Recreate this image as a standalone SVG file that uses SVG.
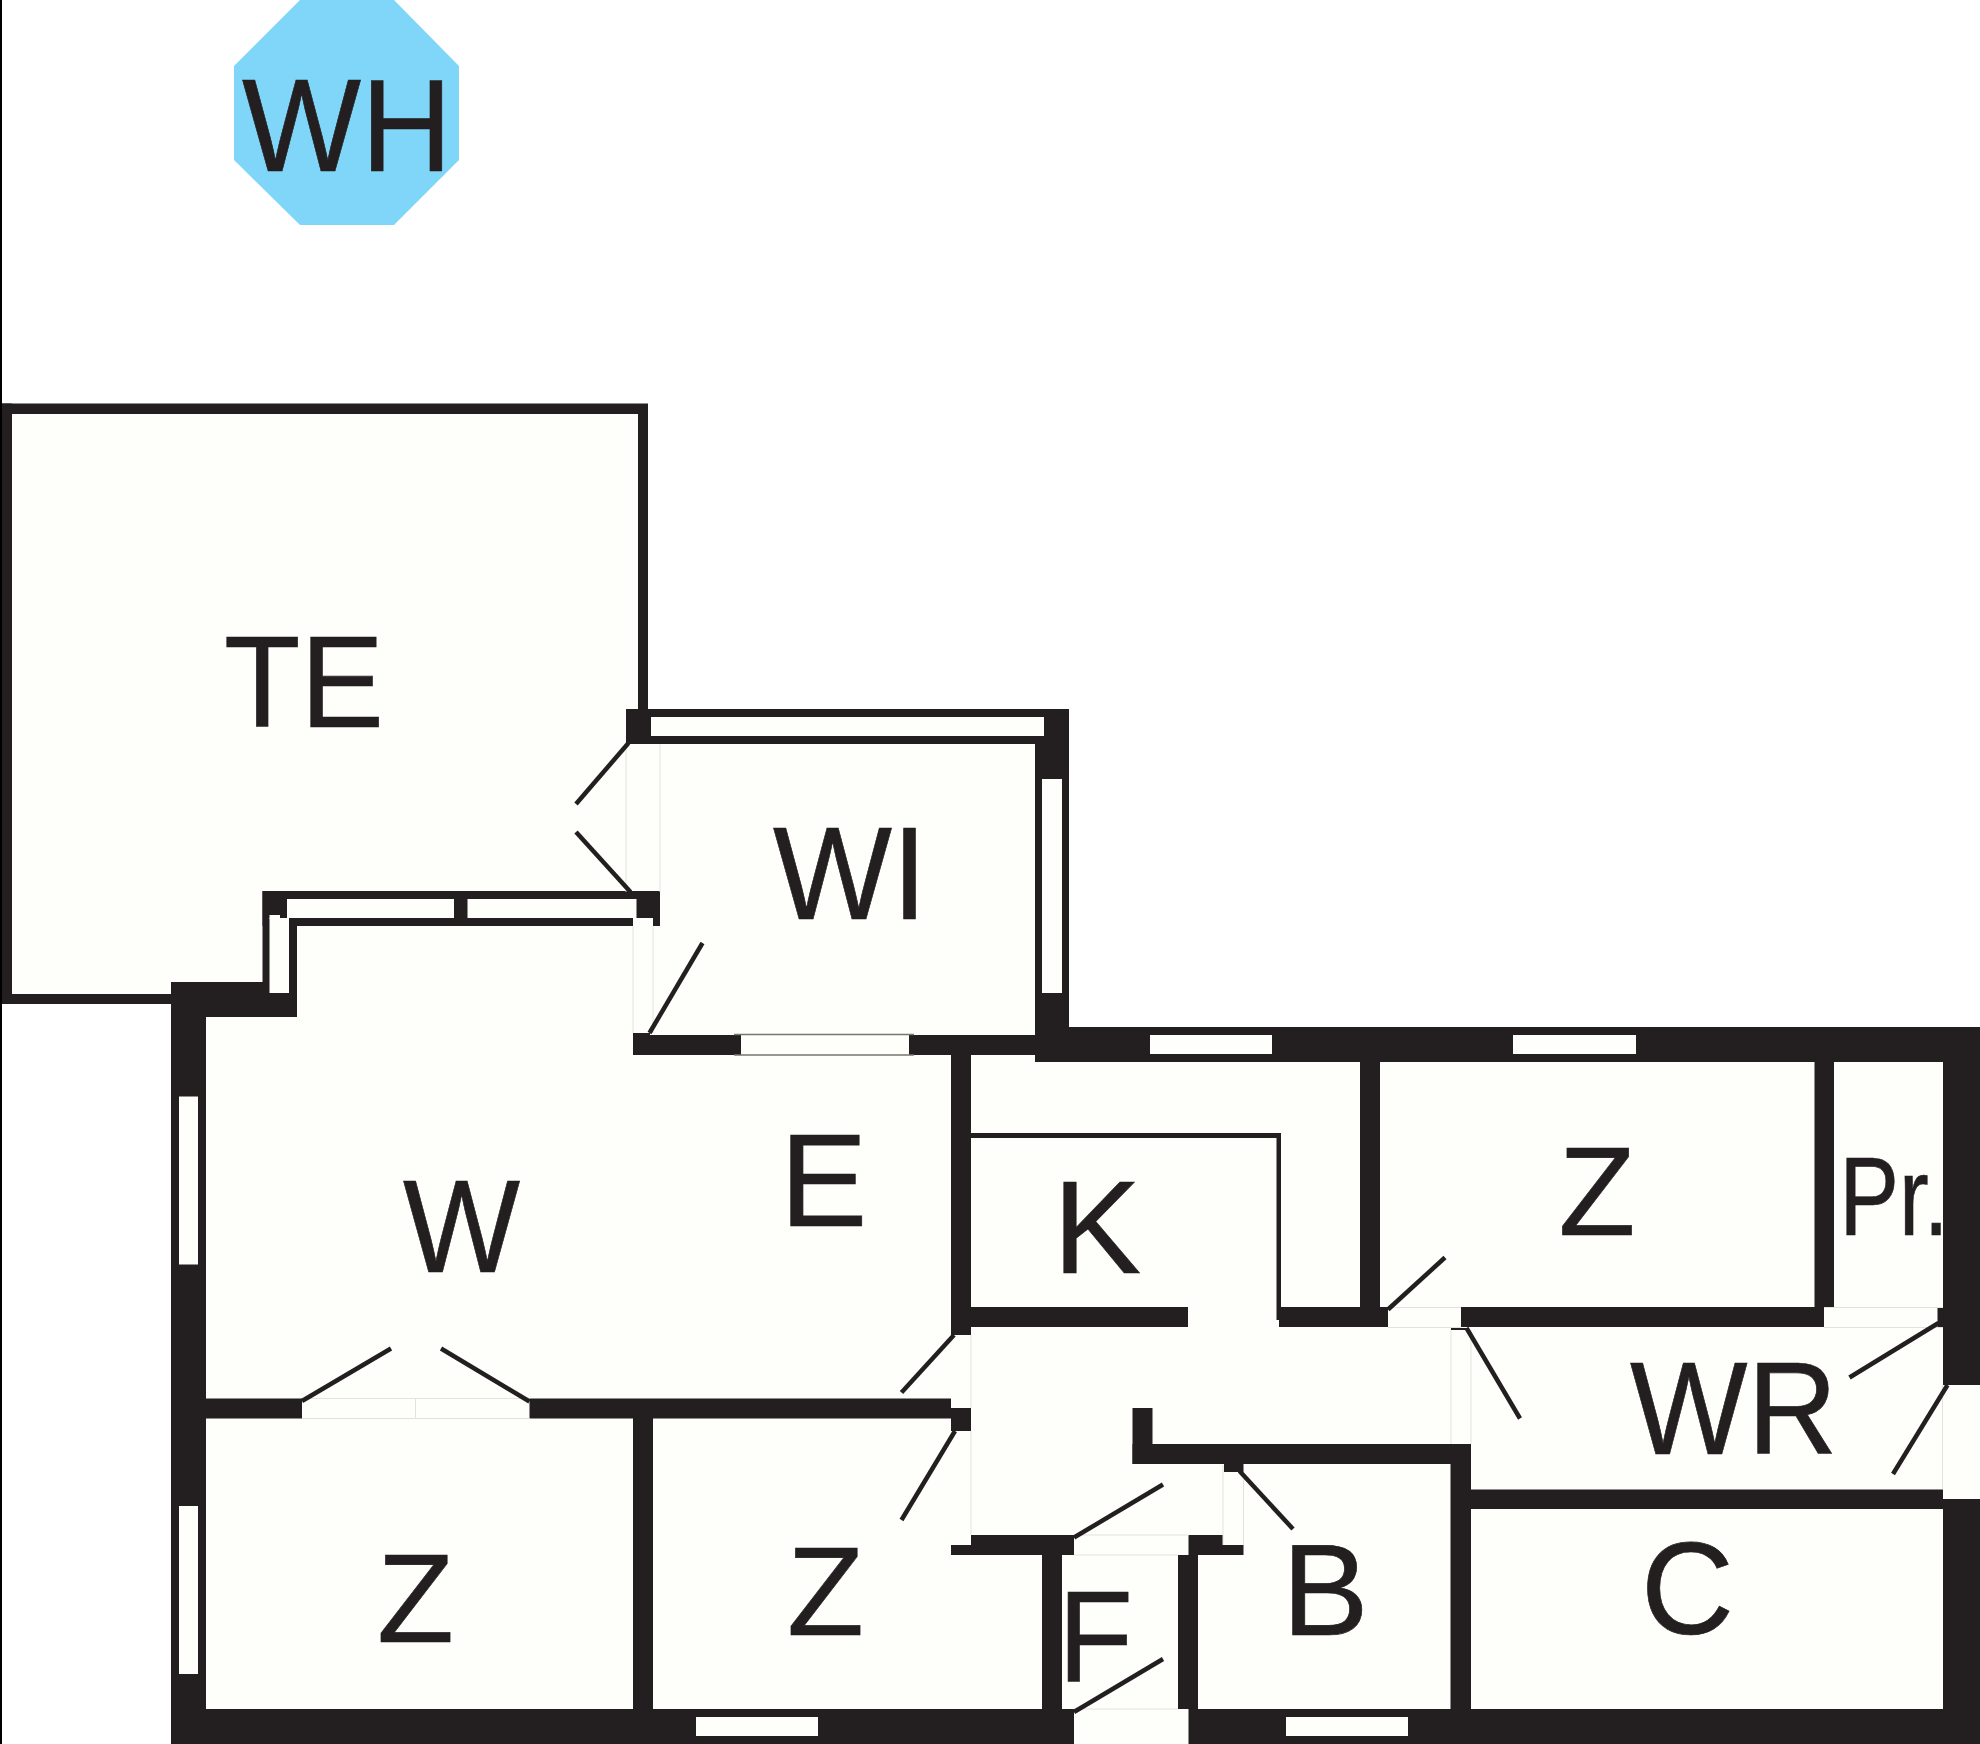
<svg xmlns="http://www.w3.org/2000/svg" width="1980" height="1744" viewBox="0 0 1980 1744">
<style>
.w{fill:#231f20}
.g{fill:#fefefa}
.f{fill:none;stroke:#e2e2de;stroke-width:1}
.e{fill:none;stroke:#77776f;stroke-width:1.5}
.d{stroke:#231f20;stroke-width:4.5;fill:none}
text{font-family:"Liberation Sans",Arial,sans-serif;fill:#231f20;stroke:#231f20;stroke-width:0.7}
</style>
<rect width="1980" height="1744" fill="#fff"/>
<rect id="edge-line" x="0" y="0" width="2" height="1744" fill="#000"/>
<polygon id="water-heater" points="300,0 394,0 459,66 459,160 394,225 300,225 234,160 234,66" fill="#80d6f8"/>
<polygon id="floor" class="g" points="2,404 648,404 648,709 1069,709 1069,1027 1980,1027 1980,1744 171,1744 171,1004 2,1004"/>
<g id="walls">
<rect class="w" x="2" y="403.5" width="646" height="10.5"/>
<rect class="w" x="2" y="403.5" width="10" height="600.5"/>
<rect class="w" x="638" y="404" width="10" height="305"/>
<rect class="w" x="2" y="994" width="170" height="10"/>
<rect class="w" x="171" y="982" width="35" height="762"/>
<rect class="w" x="171" y="982" width="126" height="35"/>
<rect class="w" x="262.5" y="891" width="397.5" height="35"/>
<rect class="w" x="262.5" y="891" width="34.5" height="126"/>
<rect class="w" x="626" y="709" width="443" height="35"/>
<rect class="w" x="1035" y="709" width="34" height="353"/>
<rect class="w" x="633" y="1035" width="402" height="20"/>
<rect class="w" x="633" y="1033" width="17" height="22"/>
<rect class="w" x="1035" y="1027" width="945" height="35"/>
<rect class="w" x="951" y="1055" width="20" height="280"/>
<rect class="w" x="971" y="1133" width="310" height="5"/>
<rect class="w" x="1276.5" y="1133" width="4.5" height="187"/>
<rect class="w" x="1360" y="1062" width="20" height="265"/>
<rect class="w" x="971" y="1307" width="217" height="20"/>
<rect class="w" x="1279" y="1307" width="109" height="20"/>
<rect class="w" x="1461" y="1307" width="363" height="20"/>
<rect class="w" x="1451" y="1328" width="16" height="2"/>
<rect class="w" x="1814.5" y="1062" width="19.5" height="245"/>
<rect class="w" x="1943" y="1062" width="37" height="323"/>
<rect class="w" x="1937.5" y="1307" width="6" height="20"/>
<rect class="w" x="1943" y="1499" width="37" height="245"/>
<rect class="w" x="206" y="1398.5" width="96" height="20"/>
<rect class="w" x="529.5" y="1398.5" width="421.5" height="20"/>
<rect class="w" x="951" y="1408" width="20" height="23"/>
<rect class="w" x="633" y="1418" width="20" height="291"/>
<rect class="w" x="171" y="1709" width="903" height="35"/>
<rect class="w" x="1188.5" y="1709" width="791.5" height="35"/>
<rect class="w" x="971" y="1535" width="103" height="20"/>
<rect class="w" x="951" y="1545" width="20" height="10"/>
<rect class="w" x="1042" y="1555" width="20" height="154"/>
<rect class="w" x="1188.5" y="1535" width="34.5" height="20"/>
<rect class="w" x="1223" y="1545" width="20.5" height="10"/>
<rect class="w" x="1178" y="1555" width="20" height="154"/>
<rect class="w" x="1132.5" y="1408" width="20" height="56"/>
<rect class="w" x="1132.5" y="1444" width="338" height="20"/>
<rect class="w" x="1224" y="1464" width="19.5" height="8"/>
<rect class="w" x="1450.5" y="1444" width="20.5" height="265"/>
<rect class="w" x="1471" y="1489.5" width="472" height="19.5"/>
</g>
<g id="windows">
<rect class="g" x="287" y="899" width="167" height="19"/>
<rect class="g" x="467.5" y="899" width="169" height="19"/>
<rect class="g" x="269.5" y="915" width="10.5" height="4"/>
<rect class="g" x="269.5" y="918" width="19.5" height="75"/>
<rect class="g" x="651" y="717" width="393" height="19"/>
<rect class="g" x="1042" y="779" width="20" height="214"/>
<rect class="g" x="734" y="1035" width="180" height="20"/>
<rect class="w" x="734" y="1035" width="7" height="20"/>
<rect class="w" x="909" y="1035" width="5" height="20"/>
<path class="e" d="M734 1034.5H914M734 1055H914"/>
<rect class="g" x="1150" y="1035" width="122" height="19"/>
<rect class="g" x="1513" y="1035" width="123" height="19"/>
<rect class="g" x="179" y="1096.5" width="19" height="168"/>
<rect class="g" x="179" y="1506" width="19" height="168"/>
<rect class="g" x="696" y="1717" width="122" height="19"/>
<rect class="g" x="1286" y="1717" width="122" height="19"/>
<rect class="g" x="633" y="918" width="20" height="9"/>
</g>
<g id="door-frames">
<path class="f" d="M626 744V892M660 744V892M633 926V1033M653 926V1033M302 1398.5H529.5M302 1418.5H529.5M415.5 1398.5V1418.5M971 1335V1408M971 1431V1535M1074 1535H1188.5M1074 1555H1178M1223 1465V1545M1243.5 1472V1545M1388 1307.5H1461M1388 1327.5H1461M1451 1330V1444M1471 1330V1444M1824 1307.5H1943M1824 1327.5H1943M1074 1709H1178M1942.5 1385V1489"/>
</g>
<g id="door-swings">
<line class="d" x1="628.5" y1="743" x2="576" y2="804"/>
<line class="d" x1="630.5" y1="892" x2="576" y2="832"/>
<line class="d" x1="649.5" y1="1033" x2="702.5" y2="943"/>
<line class="d" x1="302" y1="1401" x2="391" y2="1348.5"/>
<line class="d" x1="529.5" y1="1401.5" x2="441" y2="1348.5"/>
<line class="d" x1="954" y1="1335" x2="901.5" y2="1392.5"/>
<line class="d" x1="955" y1="1431" x2="901.5" y2="1520"/>
<line class="d" x1="1074" y1="1537.5" x2="1163" y2="1484.5"/>
<line class="d" x1="1074" y1="1712" x2="1163" y2="1659"/>
<line class="d" x1="1239.5" y1="1471" x2="1293" y2="1529"/>
<line class="d" x1="1388" y1="1309.5" x2="1445" y2="1257.5"/>
<line class="d" x1="1466.5" y1="1328" x2="1520" y2="1418.5"/>
<line class="d" x1="1938.5" y1="1323" x2="1849.5" y2="1377.5"/>
<line class="d" x1="1947.5" y1="1385" x2="1893" y2="1474"/>
</g>
<g id="labels">
<text x="242" y="170.5" font-size="132" textLength="210" lengthAdjust="spacingAndGlyphs">WH</text>
<text x="224" y="727" font-size="130" textLength="160" lengthAdjust="spacingAndGlyphs">TE</text>
<text x="773" y="919" font-size="132" textLength="154" lengthAdjust="spacingAndGlyphs">WI</text>
<text x="403" y="1271.5" font-size="132" textLength="117" lengthAdjust="spacingAndGlyphs">W</text>
<text x="780" y="1226" font-size="131">E</text>
<text x="1053" y="1272.5" font-size="132">K</text>
<text x="1558.5" y="1234.5" font-size="126">Z</text>
<text x="1839.5" y="1234.5" font-size="111" textLength="109" lengthAdjust="spacingAndGlyphs">Pr.</text>
<text x="1630" y="1454" font-size="132" textLength="207.5" lengthAdjust="spacingAndGlyphs">WR</text>
<text x="1641" y="1634" font-size="132" textLength="93" lengthAdjust="spacingAndGlyphs">C</text>
<text x="1282" y="1635" font-size="130">B</text>
<text x="1058" y="1680.5" font-size="130" textLength="75" lengthAdjust="spacingAndGlyphs">F</text>
<text x="377" y="1641.5" font-size="126">Z</text>
<text x="787" y="1635" font-size="126">Z</text>
</g>
</svg>
